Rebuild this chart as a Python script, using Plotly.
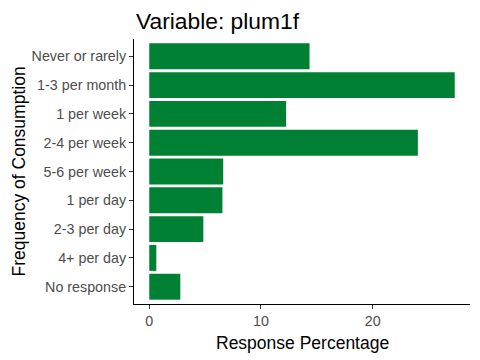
import plotly.graph_objects as go

categories = ["Never or rarely", "1-3 per month", "1 per week", "2-4 per week",
              "5-6 per week", "1 per day", "2-3 per day", "4+ per day", "No response"]
percentages = [14.35, 27.35, 12.25, 24.05, 6.62, 6.55, 4.84, 0.63, 2.78]
x_ticks = [0, 10, 20]

fig = go.Figure(go.Bar(
    x=percentages, y=categories, orientation="h",
    marker=dict(color="#008033", line=dict(width=0)),
    width=0.9,
))

font = "Liberation Sans, Arial, sans-serif"
# page body has an 8px margin, so the figure is 472x352 and offsets are shifted
fig.update_layout(
    width=472, height=352,
    margin=dict(l=126, r=10, t=31, b=56, autoexpand=False),
    paper_bgcolor="white", plot_bgcolor="white",
    showlegend=False,
    font=dict(family=font),
    annotations=[
        dict(text="Variable: plum1f", xref="paper", yref="paper", x=0, y=1,
             xanchor="left", yanchor="bottom", yshift=3, showarrow=False,
             font=dict(size=22.8, color="black", family=font)),
        dict(text="Response Percentage", xref="paper", yref="paper", x=0.5, y=0,
             xanchor="center", yanchor="top", yshift=-27, showarrow=False,
             font=dict(size=17.5, color="black", family=font)),
        dict(text="Frequency of Consumption", xref="paper", yref="paper", x=0, y=0.5,
             xanchor="center", yanchor="middle", xshift=-116, showarrow=False,
             textangle=-90, font=dict(size=17.5, color="black", family=font)),
    ],
)
xmax = max(percentages)
pad = 0.05 * xmax
fig.update_xaxes(
    range=[-pad, xmax + pad], tickvals=x_ticks, showgrid=False, zeroline=False,
    showline=True, linecolor="black", linewidth=1, automargin=False,
    ticks="outside", ticklen=4, tickcolor="#333333", tickwidth=1,
    tickfont=dict(size=14.3, color="#4D4D4D", family=font),
)
fig.update_yaxes(
    categoryorder="array", categoryarray=categories, autorange=False,
    range=[len(categories) - 1 + 0.6, -0.6], automargin=False,
    showgrid=False, zeroline=False,
    showline=True, linecolor="black", linewidth=1,
    ticks="outside", ticklen=4, tickcolor="#333333", tickwidth=1,
    tickfont=dict(size=14.3, color="#4D4D4D", family=font),
)

fig.write_html("out.html")
